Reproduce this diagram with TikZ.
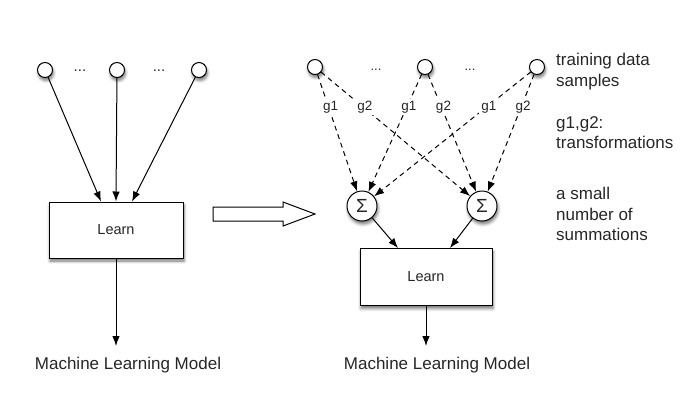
\documentclass[tikz,border=0pt]{standalone}
\usepackage{fontspec}
\setmainfont{Liberation Sans}
\usetikzlibrary{arrows.meta,calc,shadows.blur}
\begin{document}
\begin{tikzpicture}[x=1pt,y=-1pt,
  every node/.style={font=\fontsize{17}{20.5}\selectfont, text=black!85},
  shad/.style={blur shadow={shadow xshift=1pt,shadow yshift=-3pt,shadow blur radius=3pt,shadow opacity=55}},
  dot/.style={circle,draw,fill=white,minimum size=15pt,inner sep=0pt,line width=1pt,shad},
  sumnode/.style={circle,draw,fill=white,minimum size=30pt,inner sep=0pt,line width=1pt,shad,font=\fontsize{19}{20}\selectfont},
  learnbox/.style={draw,fill=white,line width=1pt,inner sep=0pt,shad,font=\fontsize{14.5}{16}\selectfont},
  arr/.style={line width=1pt,-{Latex[length=10pt,width=7.5pt]}},
  darr/.style={arr,dash pattern=on 5pt off 4pt},
  lbl/.style={fill=white,inner sep=2pt,xshift=2pt,font=\fontsize{13.5}{15}\selectfont},
  ell/.style={font=\fontsize{15}{16}\selectfont},
  ellr/.style={font=\fontsize{13}{14}\selectfont},
  note/.style={anchor=north west,align=left,inner sep=0pt}
]
\useasboundingbox (0,0) rectangle (691,408);
% left part
\node[dot] (a1) at (45,70) {};
\node[dot] (a2) at (117,70) {};
\node[dot] (a3) at (199,70) {};
\node[ell] (e1) at (80,71) {...};
\node[ell] (e2) at (159,71) {...};
\node[learnbox,minimum width=134pt,minimum height=56pt] (L1) at (116,230) {Learn};
\draw[arr] (a1) -- ([xshift=-15pt]L1.north);
\draw[arr] (a2) -- (L1.north);
\draw[arr] (a3) -- ([xshift=16pt]L1.north);
\coordinate (m1top) at (116,346);
\draw[arr] (L1.south) -- (m1top);
\node[anchor=base] (m1) at (128,369) {Machine Learning Model};
% hollow arrow
\draw[line width=1pt,fill=white] (213,207) -- (283,207) -- (283,202) -- (315,214) -- (283,226) -- (283,221) -- (213,221) -- cycle;
% right part
\node[dot] (b1) at (315,67) {};
\node[dot] (b2) at (425,67) {};
\node[dot] (b3) at (537,67) {};
\node[ellr] (e3) at (376,70) {...};
\node[ellr] (e4) at (470,70) {...};
\node[sumnode] (s1) at (362,206) {Σ};
\node[sumnode] (s2) at (482,206) {Σ};
\node[learnbox,minimum width=132pt,minimum height=57pt] (L2) at (426,277) {Learn};
\draw[darr] (b1) -- node[lbl,pos=0.28]{g1} (s1);
\draw[darr] (b1) -- node[lbl,pos=0.28]{g2} (s2);
\draw[darr] (b2) -- node[lbl,pos=0.28]{g1} (s1);
\draw[darr] (b2) -- node[lbl,pos=0.28]{g2} (s2);
\draw[darr] (b3) -- node[lbl,pos=0.28]{g1} (s1);
\draw[darr] (b3) -- node[lbl,pos=0.28]{g2} (s2);
\draw[arr] (s1) -- ([xshift=-28pt]L2.north);
\draw[arr] (s2) -- ([xshift=24pt]L2.north);
\coordinate (m2top) at (426,346);
\draw[arr] (L2.south) -- (m2top);
\node[anchor=base] (m2) at (437,369) {Machine Learning Model};
% notes
\node[note] (n1) at (556,53) {training data\\samples};
\node[note] (n2) at (556,116) {g1,g2:\\transformations};
\node[note] (n3) at (556,187) {a small\\number of\\summations};
\end{tikzpicture}
\end{document}
